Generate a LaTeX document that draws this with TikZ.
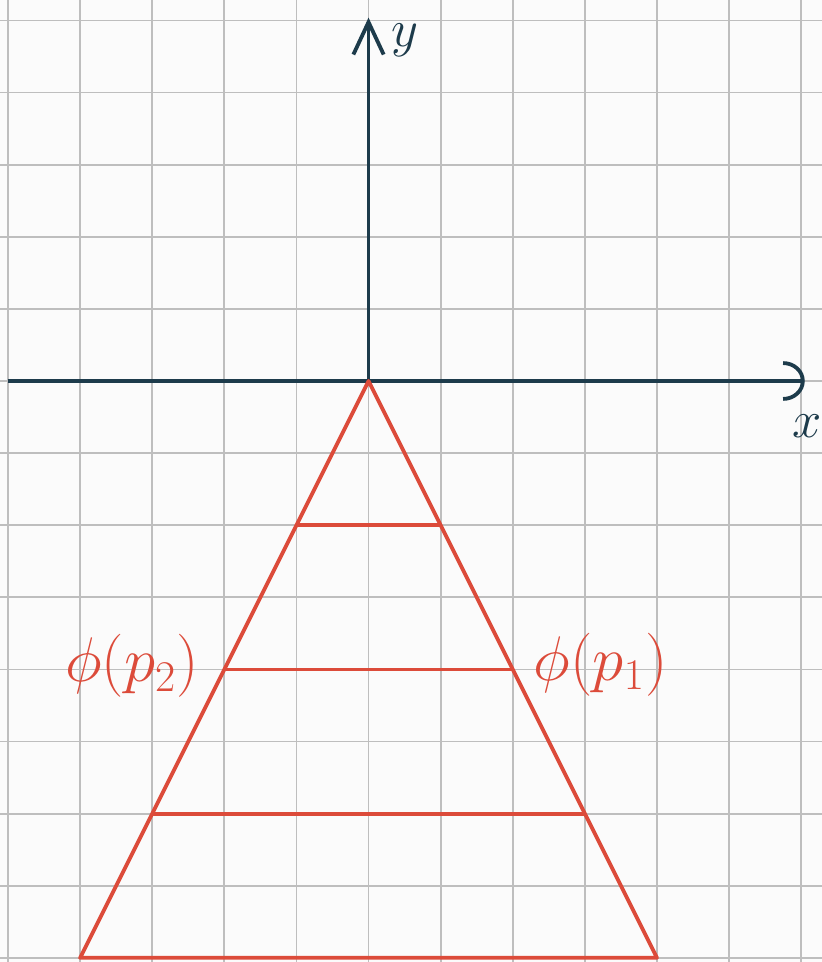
\documentclass[tikz,border=0pt]{standalone}
\usepackage{amsmath,amssymb}
\usepackage{xcolor}
\usepackage{tikz}
\usetikzlibrary{arrows.meta}

\definecolor{axisblue}{HTML}{1D3B4B}
\definecolor{conered}{HTML}{DC4B3A}
\definecolor{gridgray}{HTML}{BEBEBE}
\definecolor{paper}{HTML}{FBFBFB}

\begin{document}
\begin{tikzpicture}[
    axis/.style={axisblue, line width=1.5pt},
    cone/.style={conered, line width=1.5pt},
    lbl/.style={conered, font=\fontsize{24}{28}\selectfont}
  ]
  % page and squared paper
  \fill[paper] (-5.111,-8.058) rectangle (6.288,5.284);
  \useasboundingbox (-5.111,-8.058) rectangle (6.288,5.284);
  \foreach \i in {-5,...,6}
    \draw[gridgray, line width=0.7pt] (\i,-8.1) -- (\i,5.3);
  \foreach \j in {-8,...,5}
    \draw[gridgray, line width=0.7pt] (-5.2,\j) -- (6.3,\j);

  % axes
  \coordinate (O) at (0,0);
  \coordinate (xstart) at (-5,0);
  \coordinate (xend) at (6.05,0);
  \coordinate (yend) at (0,5.04);
  \draw[axis, -{Arc Barb[length=0.3cm, width=0.55cm]}] (xstart) -- (xend);
  \draw[axis, -{Straight Barb[length=0.45cm, width=0.42cm]}] (O) -- (yend);
  \node[axisblue, font=\fontsize{22}{26}\selectfont] (ylab) at (0.5,4.72) {\(y\)};
  \node[axisblue, font=\fontsize{22}{26}\selectfont] (xlab) at (6.08,-0.62) {\(x\)};

  % the cone and its cross sections
  \coordinate (A1) at (-1,-2); \coordinate (B1) at (1,-2);
  \coordinate (A2) at (-2,-4); \coordinate (B2) at (2,-4);
  \coordinate (A3) at (-3,-6); \coordinate (B3) at (3,-6);
  \coordinate (A4) at (-4,-8); \coordinate (B4) at (4,-8);
  \draw[cone, line join=round] (A4) -- (O) -- (B4) -- cycle;
  \draw[cone] (A1) -- (B1);
  \draw[cone] (A2) -- (B2);
  \draw[cone] (A3) -- (B3);
  \node[lbl] (phi2) at (-3.28,-3.95) {\(\phi(p_2)\)};
  \node[lbl] (phi1) at (3.22,-3.93) {\(\phi(p_1)\)};
\end{tikzpicture}
\end{document}
